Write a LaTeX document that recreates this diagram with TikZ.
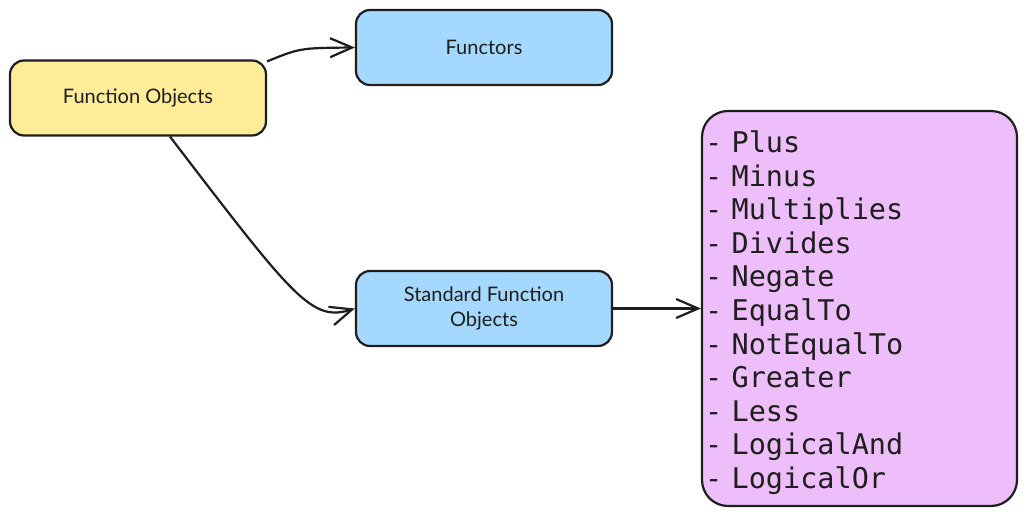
\documentclass[tikz,border=0pt]{standalone}
\usepackage{fontspec}
\setmainfont{Lato}
\newfontfamily\codefont{DejaVu Sans Mono}
\usetikzlibrary{arrows.meta}
\definecolor{ink}{HTML}{1E1E1E}
\definecolor{yel}{HTML}{FFEC99}
\definecolor{blu}{HTML}{A5D8FF}
\definecolor{pur}{HTML}{EEBEFA}
\tikzset{
  sketchbox/.style={draw=ink, line width=2.2pt, rounded corners=14pt, minimum width=256pt, minimum height=75pt, inner sep=0pt, align=center, font=\fontsize{20}{25}\selectfont, text=ink},
  listbox/.style={draw=ink, fill=pur, line width=2.2pt, rounded corners=26pt, minimum width=315pt, minimum height=395pt, text width=309pt, inner xsep=3pt, inner ysep=0pt, align=left, font=\codefont\fontsize{28.5}{33.6}\selectfont, text=ink},
  conn/.style={draw=ink, line width=2.2pt, -{Straight Barb[length=22pt, width=19pt, line width=2.2pt]}}
}
\begin{document}
\begin{tikzpicture}[x=1pt, y=-1pt]
\useasboundingbox (0,0) rectangle (1026,516);
\node[sketchbox, fill=yel] (fo) at (138,98) {Function Objects};
\node[sketchbox, fill=blu] (fun) at (484,47.5) {Functors};
\node[sketchbox, fill=blu] (sfo) at (484,308.5) {Standard Function\\Objects};
\node[listbox] (lst) at (859.5,308.5) {\rule{0pt}{30pt}- Plus\\- Minus\\- Multiplies\\- Divides\\- Negate\\- EqualTo\\- NotEqualTo\\- Greater\\- Less\\- LogicalAnd\\- LogicalOr};
\draw[conn] ([yshift=-2pt]fo.north east) .. controls (300,48) .. (fun.west);
\draw[conn] ([xshift=32pt]fo.south) .. controls (295,300) and (312,322) .. (sfo.west);
\draw[conn] (sfo.east) -- (lst.west);
\end{tikzpicture}
\end{document}
